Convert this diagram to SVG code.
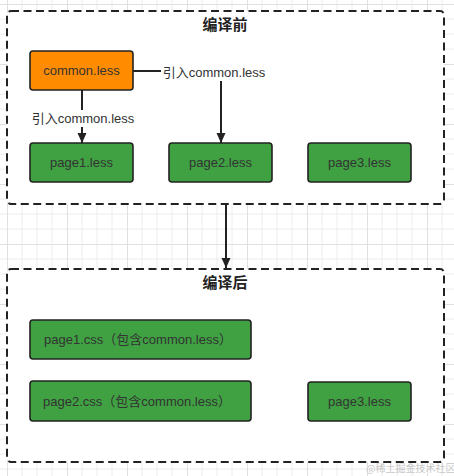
<svg xmlns="http://www.w3.org/2000/svg" width="454" height="476" viewBox="0 0 454 476">
  <defs>
    <pattern id="grid" x="7" y="4" width="60" height="60" patternUnits="userSpaceOnUse">
      <path d="M0,0 V60 M15,0 V60 M30,0 V60 M45,0 V60 M0,0 H60 M0,15 H60 M0,30 H60 M0,45 H60" stroke="#ececec" stroke-width="1" fill="none"/>
      <path d="M0.5,0 V60 M0,0.5 H60" stroke="#e0e0e0" stroke-width="1" fill="none"/>
    </pattern>
    <marker id="arrow" markerWidth="10" markerHeight="10" refX="10" refY="5" orient="auto" markerUnits="userSpaceOnUse">
      <path d="M0,0.5 L10,5 L0,9.5 Z" fill="#222"/>
    </marker>
  </defs>
  <style>
    .container { fill: #ffffff; stroke: #222; stroke-width: 2; stroke-dasharray: 8 4.5; }
    .title { font-family: "Liberation Sans", "Noto Sans CJK SC", sans-serif; font-size: 15px; font-weight: bold; fill: #222; text-anchor: middle; }
    .green { fill: #3fa142; stroke: #222; stroke-width: 1.6; }
    .orange { fill: #ff8c00; stroke: #222; stroke-width: 1.6; }
    .label { font-family: "Liberation Sans", "Noto Sans CJK SC", sans-serif; font-size: 13px; fill: #333; text-anchor: middle; }
    .edge { stroke: #222; stroke-width: 2; fill: none; }
    .elabel { font-family: "Liberation Sans", "Noto Sans CJK SC", sans-serif; font-size: 13px; fill: #333; text-anchor: middle; }
    .wm { font-family: "Noto Sans CJK SC", sans-serif; font-size: 10px; fill: #c8c8c8; }
  </style>
  <rect x="0" y="0" width="454" height="476" fill="#ffffff"/>
  <rect x="0" y="0" width="454" height="476" fill="url(#grid)"/>

  <g id="before">
    <rect class="container" x="7" y="11" width="437" height="193" rx="4"/>
    <text class="title" x="225" y="30">编译前</text>
  </g>
  <g id="after">
    <rect class="container" x="7" y="269" width="437" height="193" rx="4"/>
    <text class="title" x="225" y="288">编译后</text>
  </g>

  <g id="connectors">
    <path class="edge" d="M82,90 V143" marker-end="url(#arrow)"/>
    <rect x="30" y="110" width="106" height="17" fill="#ffffff"/>
    <text class="elabel" x="83" y="123">引入common.less</text>
    <path class="edge" d="M133,71 H221 V143" marker-end="url(#arrow)"/>
    <rect x="161" y="63" width="107" height="18" fill="#ffffff"/>
    <text class="elabel" x="214" y="77">引入common.less</text>
    <path class="edge" d="M226,204 V268" marker-end="url(#arrow)"/>
  </g>

  <g id="common-less">
    <rect class="orange" x="30" y="51" width="103" height="39" rx="3"/>
    <text class="label" x="81.5" y="75">common.less</text>
  </g>
  <g id="page1-less">
    <rect class="green" x="30" y="143" width="103" height="39" rx="3"/>
    <text class="label" x="81.5" y="167">page1.less</text>
  </g>
  <g id="page2-less">
    <rect class="green" x="169" y="143" width="103" height="39" rx="3"/>
    <text class="label" x="220.5" y="167">page2.less</text>
  </g>
  <g id="page3-less">
    <rect class="green" x="308" y="143" width="103" height="39" rx="3"/>
    <text class="label" x="359.5" y="167">page3.less</text>
  </g>
  <g id="page1-css">
    <rect class="green" x="30" y="320" width="221" height="39" rx="3"/>
    <text class="label" x="138" y="344">page1.css（包含common.less）</text>
  </g>
  <g id="page2-css">
    <rect class="green" x="30" y="381" width="221" height="40" rx="3"/>
    <text class="label" x="137" y="406">page2.css（包含common.less）</text>
  </g>
  <g id="page3-less-after">
    <rect class="green" x="308" y="382" width="103" height="39" rx="3"/>
    <text class="label" x="359.5" y="406">page3.less</text>
  </g>

  <text class="wm" x="366" y="472">@稀土掘金技术社区</text>
</svg>
